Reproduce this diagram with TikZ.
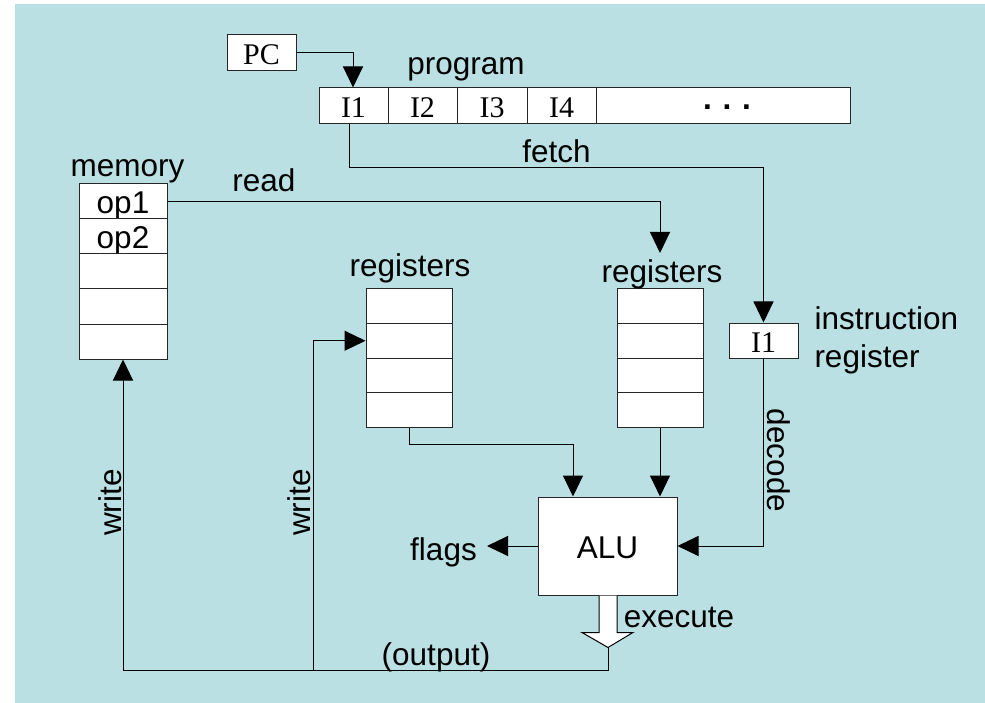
\documentclass[tikz,border=0pt]{standalone}
\usepackage{fontspec}
\setmainfont{Liberation Sans}
\newfontfamily\tnr{Liberation Serif}
\usetikzlibrary{arrows.meta}
\definecolor{bgblue}{RGB}{186,224,227}

\begin{document}
\begin{tikzpicture}[x=1pt, y=-1pt, line width=1pt, >={Triangle[length=21pt,width=20pt]},
    cell/.style={draw=black!85, fill=white, inner sep=0pt, text height=24pt, text depth=0pt, font=\fontsize{31.5}{38}\selectfont},
    tcell/.style={cell, font=\tnr\fontsize{30}{36}\selectfont},
    lbl/.style={font=\fontsize{31.5}{38}\selectfont, inner sep=0pt, anchor=base}]
    \useasboundingbox (0,0) rectangle (985,703);
    \fill[bgblue] (15,4) rectangle (985,703);
    % program counter and program
    \node[tcell, minimum width=69pt, minimum height=36pt] (PC) at (261.5,53) {PC};
    \node[tcell, minimum width=69pt, minimum height=36pt] (I1) at (353.5,106) {I1};
    \node[tcell, minimum width=69pt, minimum height=36pt] (I2) at (422.5,106) {I2};
    \node[tcell, minimum width=70pt, minimum height=36pt] (I3) at (492,106) {I3};
    \node[tcell, minimum width=69pt, minimum height=36pt] (I4) at (561.5,106) {I4};
    \node[cell, minimum width=254pt, minimum height=36pt, text height=8pt, font=\bfseries\fontsize{31.5}{38}\selectfont] (dots) at (723,106) {\hspace{8pt}.\hspace{10.7pt}.\hspace{10.7pt}.};
    \node[lbl] (prog) at (466,75) {program};
    % memory and registers
    \node[lbl] (mem) at (127.5,177) {memory};
    \node[cell, minimum width=88pt, minimum height=35pt] (m1) at (123,201.5) {op1};
    \node[cell, minimum width=88pt, minimum height=35pt] (m2) at (123,236.5) {op2};
    \foreach \i in {3,4,5}
        \node[cell, minimum width=88pt, minimum height=35pt] (m\i) at (123,{166.5+35*\i}) {};
    \foreach \i in {1,...,4} {
        \node[cell, minimum width=86pt, minimum height=34.5pt] (rL\i) at (409,{271.75+34.5*\i}) {};
        \node[cell, minimum width=86pt, minimum height=34.5pt] (rR\i) at (660,{271.75+34.5*\i}) {};
    }
    \node[lbl] (regL) at (410,277) {registers};
    \node[lbl] (regR) at (662,283) {registers};
    \node[tcell, minimum width=69pt, minimum height=35pt] (IR) at (763.5,340.5) {I1};
    \node[lbl, anchor=base west] (ir1) at (814,330) {instruction};
    \node[lbl, anchor=base west] (ir2) at (814,367) {register};
    \node[cell, minimum width=139pt, minimum height=98pt] (ALU) at (607.5,546) {ALU};
    % labels
    \node[lbl] (fetch) at (556.5,163) {fetch};
    \node[lbl] (read) at (264,192) {read};
    \node[lbl, rotate=-90] (decode) at (767,460.5) {decode};
    \node[lbl] (flags) at (443.5,560) {flags};
    \node[lbl] (exec) at (679,627) {execute};
    \node[lbl] (out) at (436,665) {(output)};
    \node[lbl, rotate=90] (wr1) at (121,502.5) {write};
    \node[lbl, rotate=90] (wr2) at (310,502.5) {write};
    \coordinate (rdend) at (660,253);
    \coordinate (flagtip) at (487,546);
    \coordinate (extip) at (608,647);
    \coordinate (wsplit) at (313,670);
    % connectors
    \draw[->] (PC.east) -| ([xshift=-0.5pt]I1.north);
    \draw[->] ([xshift=-4.5pt]I1.south) -- ++(0,43) -| (IR.north);
    \draw[->] (m1.east) -| (rdend);
    \draw[->] (rL4.south) -- ++(0,17) -| ([xshift=-34.5pt]ALU.north);
    \draw[->] (rR4.south) -- (rR4.south |- ALU.north);
    \draw[->] (IR.south) |- (ALU.east);
    \draw[->] (ALU.west) -- (flagtip);
    \draw[fill=white] ([xshift=-8.5pt]ALU.south) -- ++(0,37) -- ++(-17,0) -- ++(26,15) -- ++(25,-15) -- ++(-16,0) -- ++(0,-37);
    \draw[->] (extip) -- ++(0,23) -| (m5.south);
    \draw[->] (wsplit) |- (rL2.west);
\end{tikzpicture}
\end{document}
